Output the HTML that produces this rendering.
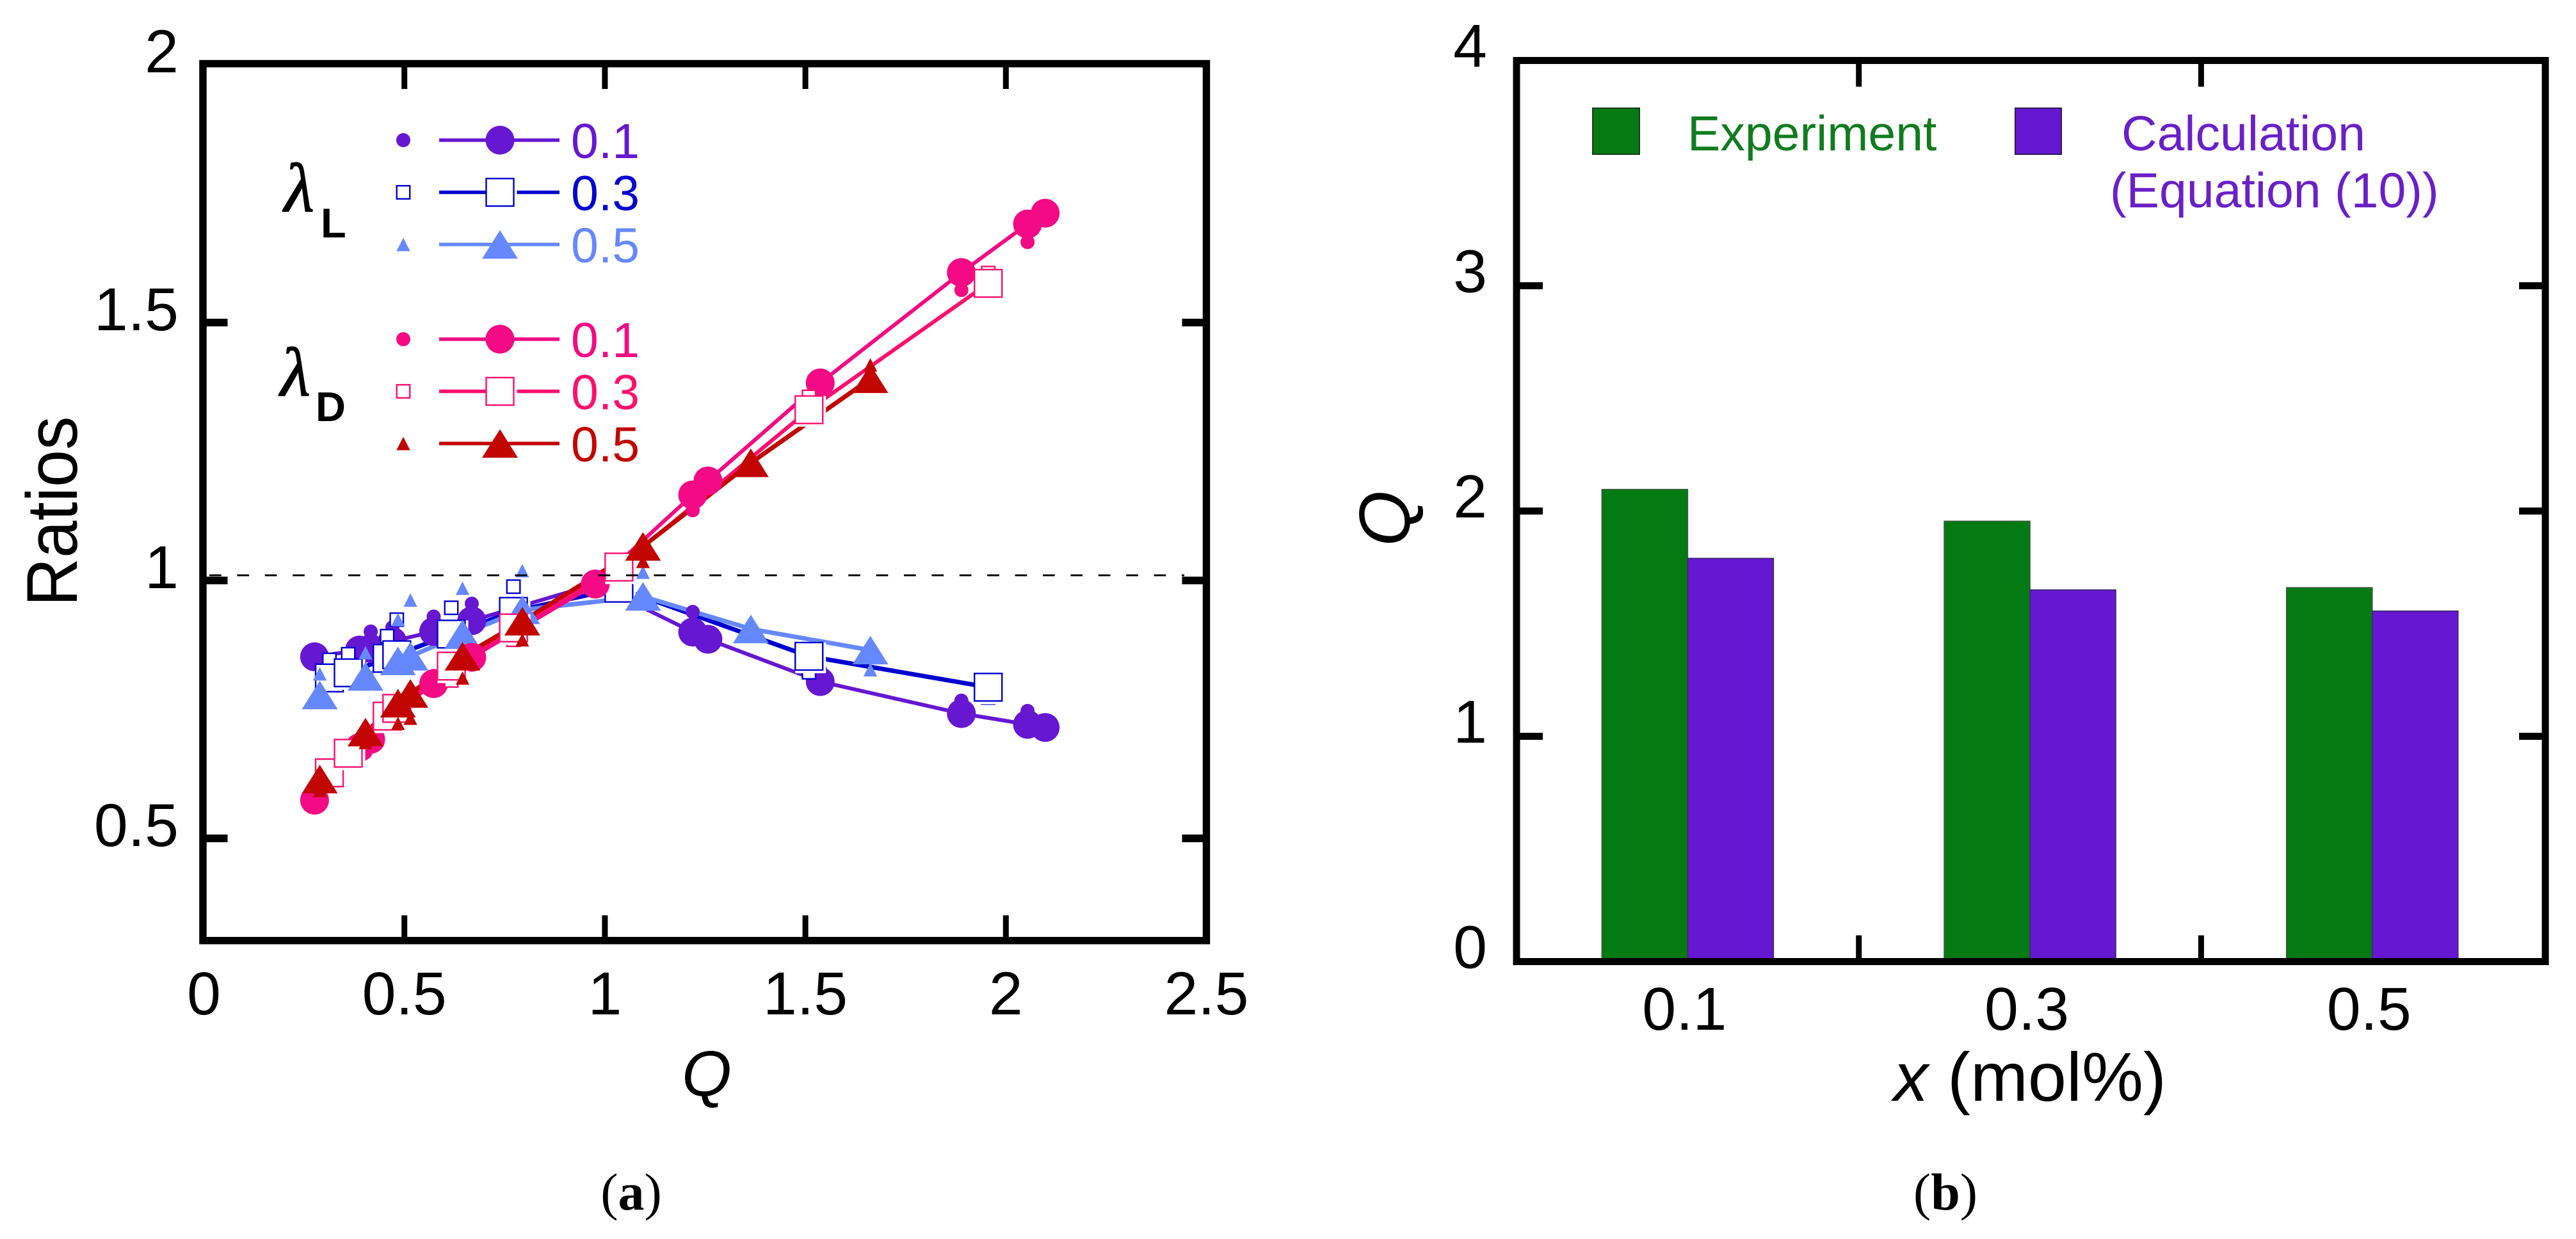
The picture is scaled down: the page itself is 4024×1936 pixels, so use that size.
<!DOCTYPE html>
<html lang="en">
<head>
<meta charset="utf-8">
<title>Ratios and Q charts</title>
<style>
  html, body { margin: 0; padding: 0; background: #ffffff; }
  svg { display: block; }
  text { font-family: "Liberation Sans", sans-serif; }
  .serif { font-family: "Liberation Serif", serif; }
</style>
</head>
<body>
<svg id="figure" xmlns="http://www.w3.org/2000/svg" width="4024" height="1936" viewBox="0 0 4024 1936">
  <rect x="0" y="0" width="4024" height="1936" fill="#ffffff"/>
  <g id="panelA"></g>
  <g id="panelB"></g>

  <text transform="translate(120,799) rotate(-90)" text-anchor="middle" font-size="112" textLength="297" lengthAdjust="spacingAndGlyphs">Ratios</text>
  <text x="1104" y="1712" text-anchor="middle" font-size="100" font-style="italic">Q</text>
  <text class="serif" x="986" y="1890" text-anchor="middle" font-size="82">(<tspan font-weight="bold">a</tspan>)</text>

  <text class="serif" x="444" y="330" font-size="108" font-style="italic" stroke="#000" stroke-width="1.5">λ</text>
  <text x="501" y="371" font-size="65" font-weight="bold">L</text>
  <text class="serif" x="438" y="618" font-size="108" font-style="italic" stroke="#000" stroke-width="1.5">λ</text>
  <text x="493" y="658" font-size="65" font-weight="bold">D</text>

  <text transform="translate(2202,810) rotate(-90)" text-anchor="middle" font-size="112" font-style="italic">Q</text>
  <text x="3171" y="1720" text-anchor="middle" font-size="108"><tspan font-style="italic">x</tspan> (mol%)</text>
  <text class="serif" x="3039" y="1890" text-anchor="middle" font-size="82">(<tspan font-weight="bold">b</tspan>)</text>

  <rect x="2488" y="169" width="73" height="72" fill="#047a12" stroke="#1c3a1c" stroke-width="2"/>
  <text x="2636" y="235" font-size="77" fill="#117c1f">Experiment</text>
  <rect x="3148" y="169" width="72" height="72" fill="#6617d2" stroke="#2a1a55" stroke-width="2"/>
  <text x="3314" y="235" font-size="77" fill="#6a20c8">Calculation</text>
  <text x="3296" y="324" font-size="77" fill="#6a20c8">(Equation (10))</text>
</svg>

<script>
// ---------- Panel (a) data ----------
const xTicksA = [0, 0.5, 1, 1.5, 2, 2.5];
const xTickLabelsA = ["0", "0.5", "1", "1.5", "2", "2.5"];
const yTicksA = [0.5, 1, 1.5, 2];
const yTickLabelsA = ["0.5", "1", "1.5", "2"];
const referenceLevel = [1.01];

const qCircle = [0.276, 0.388, 0.416, 0.470, 0.573, 0.668, 0.976, 1.219, 1.257, 1.537, 1.889, 2.054, 2.098];
const qSquare = [0.313, 0.360, 0.457, 0.481, 0.617, 0.772, 1.035, 1.509, 1.956];
const qTriangle = [0.289, 0.403, 0.484, 0.515, 0.645, 0.794, 1.095, 1.364, 1.662];

const lambdaL01Large = [0.852, 0.865, 0.868, 0.882, 0.901, 0.922, 0.993, 0.900, 0.886, 0.804, 0.742, 0.721, 0.715];
const lambdaL01Small = [0.860, 0.875, 0.901, 0.909, 0.930, 0.955, 0.995, 0.939, 0.895, 0.826, 0.767, 0.747, 0.718];
const lambdaL03Large = [0.811, 0.821, 0.849, 0.856, 0.896, 0.940, 0.985, 0.853, 0.793];
const lambdaL03Small = [0.846, 0.857, 0.892, 0.924, 0.947, 0.988, 0.990, 0.822, 0.773];
const lambdaL05Large = [0.778, 0.814, 0.844, 0.853, 0.896, 0.943, 0.969, 0.906, 0.865];
const lambdaL05Small = [0.819, 0.860, 0.924, 0.962, 0.985, 1.019, 1.016, 0.900, 0.827];

const lambdaD01Large = [0.574, 0.676, 0.692, 0.740, 0.800, 0.851, 0.993, 1.166, 1.193, 1.383, 1.597, 1.691, 1.712];
const lambdaD01Small = [0.585, 0.690, 0.700, 0.750, 0.815, 0.840, 0.990, 1.136, 1.185, 1.360, 1.563, 1.656, 1.705];
const lambdaD03Large = [0.627, 0.665, 0.737, 0.752, 0.834, 0.908, 1.026, 1.331, 1.576];
const lambdaD03Small = [0.620, 0.651, 0.730, 0.718, 0.806, 0.885, 1.010, 1.356, 1.596];
const lambdaD05Large = [0.615, 0.706, 0.762, 0.781, 0.853, 0.921, 1.066, 1.228, 1.391];
const lambdaD05Small = [0.593, 0.686, 0.723, 0.733, 0.811, 0.885, 1.037, 1.225, 1.418];

const legendLabelsL = ["0.1", "0.3", "0.5"];
const legendLabelsD = ["0.1", "0.3", "0.5"];

// ---------- Panel (b) data ----------
const categoriesB = ["0.1", "0.3", "0.5"];
const experimentValues = [2.096, 1.955, 1.660];
const calculationValues = [1.790, 1.650, 1.556];
const yTicksB = [0, 1, 2, 3, 4];
const yTickLabelsB = ["0", "1", "2", "3", "4"];

// ---------- Axis functions ----------
function xA(q) { return 318.5 + 626.4 * q; }
function yA(v) { return 907 - 806 * (v - 1); }
function yB(v) { return 1502.5 - 352 * v; }
const bandB = 534.7;
function xB(i) { return 2369 + bandB * i; }

const NS = "http://www.w3.org/2000/svg";
function make(tag, parent, attrs) {
  const el = document.createElementNS(NS, tag);
  for (const k in attrs) { el.setAttribute(k, attrs[k]); }
  parent.appendChild(el);
  return el;
}

function drawMarker(parent, shape, color, cx, cy, big, name) {
  if (shape === "circle") {
    const r = big ? 22.5 : 11;
    const c = make("circle", parent, { cx: cx, cy: cy, r: r, fill: color });
    
    
  } else if (shape === "square") {
    const s = big ? 43 : 20.5;
    if (big) {
      const halo = make("rect", parent, { x: cx - s / 2, y: cy - s / 2, width: s + 5, height: s + 5, fill: "#ffffff" });
      
      
    }
    const q = make("rect", parent, { x: cx - s / 2, y: cy - s / 2, width: s, height: s, fill: "#ffffff", stroke: color, "stroke-width": 2.4 });
    
    
  } else {
    const w = big ? 28 : 10.7;
    const h = big ? 22.3 : 10.5;
    const t = make("polygon", parent, { points: (cx - w) + "," + (cy + h) + " " + (cx + w) + "," + (cy + h) + " " + cx + "," + (cy - h), fill: color });
    
    
  }
}

// ---------- Draw panel (a) ----------
const panelA = document.getElementById("panelA");

const seriesA = [
  { id: "lambda-l-0.1", shape: "circle", color: "#6617d2", lineW: 6, qs: qCircle, large: lambdaL01Large, small: lambdaL01Small },
  { id: "lambda-l-0.3", shape: "square", color: "#0000d0", lineW: 7, qs: qSquare, large: lambdaL03Large, small: lambdaL03Small },
  { id: "lambda-l-0.5", shape: "triangle", color: "#6688ff", lineW: 7, qs: qTriangle, large: lambdaL05Large, small: lambdaL05Small },
  { id: "lambda-d-0.1", shape: "circle", color: "#f40a84", lineW: 6, qs: qCircle, large: lambdaD01Large, small: lambdaD01Small },
  { id: "lambda-d-0.3", shape: "square", color: "#ff0f6e", lineW: 6, qs: qSquare, large: lambdaD03Large, small: lambdaD03Small },
  { id: "lambda-d-0.5", shape: "triangle", color: "#c20500", lineW: 7, qs: qTriangle, large: lambdaD05Large, small: lambdaD05Small }
];

// All connecting lines sit beneath all markers
seriesA.forEach(function (s) {
  const pts = s.large.map(function (v, i) { return xA(s.qs[i]) + "," + yA(v); }).join(" ");
  const line = make("polyline", panelA, { points: pts, fill: "none", stroke: s.color, "stroke-width": s.lineW, "stroke-linejoin": "round" });
  
  
});

seriesA.forEach(function (s) {
  const g = make("g", panelA, {});
  
  
  s.small.forEach(function (v, i) {
    drawMarker(g, s.shape, s.color, xA(s.qs[i]), yA(v), false, 'small-point-' + s.id);
  });
  s.large.forEach(function (v, i) {
    drawMarker(g, s.shape, s.color, xA(s.qs[i]), yA(v), true, 'point-' + s.id);
  });
});

const dash = make("line", panelA, { x1: 327, x2: 1850, y1: yA(referenceLevel[0]), y2: yA(referenceLevel[0]), stroke: "#000000", "stroke-width": 2.8, "stroke-dasharray": "18.7 24.7" });



// Frame and ticks (a)
const frameA = make("rect", panelA, { x: xA(0) - 1.5, y: yA(2) - 1.5, width: xA(2.5) - xA(0) + 1.5, height: yA(0.3) - yA(2), fill: "none", stroke: "#000000", "stroke-width": 11.5 });



xTicksA.forEach(function (t, i) {
  if (t > 0 && t < 2.5) {
    const a = make("line", panelA, { x1: xA(t), x2: xA(t), y1: yA(2), y2: yA(2) + 38, stroke: "#000", "stroke-width": 9 });
    
    
    const b = make("line", panelA, { x1: xA(t), x2: xA(t), y1: yA(0.3) - 2, y2: yA(0.3) - 41, stroke: "#000", "stroke-width": 9 });
    
    
  }
  const lbl = make("text", panelA, { x: xA(t), y: 1585, "text-anchor": "middle", "font-size": 95 });
  lbl.textContent = xTickLabelsA[i];
  
  
});

yTicksA.forEach(function (t, i) {
  if (t < 2) {
    const a = make("line", panelA, { x1: xA(0), x2: xA(0) + 37, y1: yA(t), y2: yA(t), stroke: "#000", "stroke-width": 12 });
    
    
    const b = make("line", panelA, { x1: xA(2.5), x2: xA(2.5) - 38, y1: yA(t), y2: yA(t), stroke: "#000", "stroke-width": 12 });
    
    
  }
  const lbl = make("text", panelA, { x: 279, y: yA(t) + 12, "text-anchor": "end", "font-size": 95 });
  lbl.textContent = yTickLabelsA[i];
  
  
});

// Legend (a)
function drawLegendRow(label, s, rowY) {
  const g = make("g", panelA, {});
  
  
  drawMarker(g, s.shape, s.color, 630, rowY, false, 'legend-small-marker');
  const l = make("line", g, { x1: 686, x2: 874, y1: rowY, y2: rowY, stroke: s.color, "stroke-width": 5.5 });
  
  
  drawMarker(g, s.shape, s.color, 781, rowY, true, 'legend-large-marker');
  const t = make("text", g, { x: 892, y: rowY + 28, "font-size": 77, fill: s.color });
  t.textContent = label;
  
  
}
legendLabelsL.forEach(function (label, i) { drawLegendRow(label, seriesA[i], 219 + 81.5 * i); });
legendLabelsD.forEach(function (label, i) { drawLegendRow(label, seriesA[i + 3], 530 + 81.5 * i); });

// ---------- Draw panel (b) ----------
const panelB = document.getElementById("panelB");
const barW = 134;

categoriesB.forEach(function (cat, i) {
  const center = xB(i) + bandB / 2;
  const g1 = make("rect", panelB, { x: center - barW, y: yB(experimentValues[i]), width: barW, height: yB(0) - yB(experimentValues[i]), fill: "#047a12", stroke: "#3d5a40", "stroke-width": 1.6 });
  
  
  const g2 = make("rect", panelB, { x: center, y: yB(calculationValues[i]), width: barW, height: yB(0) - yB(calculationValues[i]), fill: "#6617d2", stroke: "#3b2a66", "stroke-width": 1.6 });
  
  
  const lbl = make("text", panelB, { x: center - 5, y: 1609, "text-anchor": "middle", "font-size": 95 });
  lbl.textContent = cat;
  
  
  if (i > 0) {
    const a = make("line", panelB, { x1: xB(i), x2: xB(i), y1: yB(4), y2: yB(4) + 41, stroke: "#000", "stroke-width": 9 });
    
    
    const b = make("line", panelB, { x1: xB(i), x2: xB(i), y1: yB(0), y2: yB(0) - 41, stroke: "#000", "stroke-width": 9 });
    
    
  }
});

const frameB = make("rect", panelB, { x: xB(0), y: yB(4), width: xB(3) - xB(0) + 3, height: yB(0) - yB(4), fill: "none", stroke: "#000000", "stroke-width": 11 });



yTicksB.forEach(function (t, i) {
  if (t > 0 && t < 4) {
    const a = make("line", panelB, { x1: xB(0), x2: xB(0) + 41, y1: yB(t), y2: yB(t), stroke: "#000", "stroke-width": 11 });
    
    
    const b = make("line", panelB, { x1: xB(3) + 3, x2: xB(3) - 38, y1: yB(t), y2: yB(t), stroke: "#000", "stroke-width": 11 });
    
    
  }
  const lbl = make("text", panelB, { x: 2323, y: yB(t) + 10, "text-anchor": "end", "font-size": 95 });
  lbl.textContent = yTickLabelsB[i];
  
  
});
</script>
</body>
</html>
